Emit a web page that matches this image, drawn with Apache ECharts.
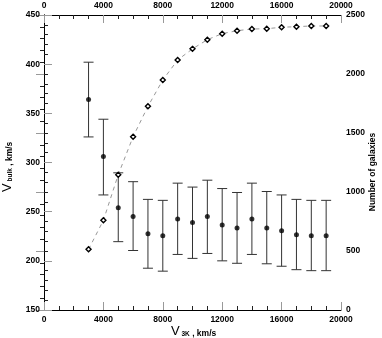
<!DOCTYPE html>
<html>
<head>
<meta charset="utf-8">
<script src="https://cdn.jsdelivr.net/npm/echarts@6/dist/echarts.min.js"></script>
<style>html,body{margin:0;padding:0;background:#fff;}#c{width:382px;height:338px;}</style>
</head>
<body>
<div id="c"></div>
<script>
const vel = [3000,4000,5000,6000,7000,8000,9000,10000,11000,12000,13000,14000,15000,16000,17000,18000,19000];
const vBulk = [364,306,254,245,227.5,225.5,242.5,239,245,236.5,233.5,242.5,233.5,230.5,226.5,225.5,225.5];
const vHigh = [402,344,289.5,280.5,262.5,261.5,279,275,282,273.5,269.5,279,270.5,267,262.5,261.5,261.5];
const vLow  = [326,267,219.5,210.5,192.5,189.5,206.5,202.5,207.5,200,197.5,206.5,197,194.5,191,190,190];
const nGal  = [514,760,1147,1469,1726,1949,2119,2213,2291,2342,2367,2381,2384,2396,2401,2407,2407];

const FONT = 'Liberation Sans';
const plain = v => String(v);
const lab = {color:'#000', fontFamily:FONT, fontSize:8.5, fontWeight:'bold', formatter:plain};
const majTick = {show:true, inside:true, length:8, lineStyle:{color:'#999', width:1}};
const minTick = {show:true, length:4, lineStyle:{color:'#222', width:1}};
const axLine = {show:true, lineStyle:{color:'#000', width:1}};

function xAx(pos, margin){
  return {type:'value', position:pos, min:0, max:20000, interval:4000,
    axisLine:axLine, axisTick:majTick, minorTick:Object.assign({splitNumber:4}, minTick),
    splitLine:{show:false}, axisLabel:Object.assign({margin:margin}, lab)};
}

const chart = echarts.init(document.getElementById('c'), null, {renderer:'canvas'});
chart.setOption({
  animation:false,
  backgroundColor:'#fff',
  grid:{left:44, right:41, top:15, bottom:28},
  xAxis:[xAx('bottom',5), xAx('top',5)],
  yAxis:[
    {type:'value', position:'left', min:150, max:450, interval:50,
      axisLine:axLine, axisTick:majTick, minorTick:Object.assign({splitNumber:5}, minTick),
      splitLine:{show:false}, axisLabel:Object.assign({margin:4}, lab)},
    {type:'value', position:'right', min:0, max:2500, interval:500,
      axisLine:axLine, axisTick:majTick, minorTick:Object.assign({splitNumber:5}, minTick),
      splitLine:{show:false}, axisLabel:Object.assign({margin:5}, lab)}
  ],
  series:[
    {type:'custom', xAxisIndex:0, yAxisIndex:0,
      data: vel.map((v,i)=>[v, vLow[i], vHigh[i]]),
      encode:{x:0, y:[1,2]},
      renderItem:function(params, api){
        const x = api.value(0);
        const pl = api.coord([x, api.value(1)]);
        const ph = api.coord([x, api.value(2)]);
        const w = 5;
        const st = {stroke:'#333', lineWidth:1};
        return {type:'group', children:[
          {type:'line', shape:{x1:pl[0], y1:pl[1], x2:ph[0], y2:ph[1]}, style:st},
          {type:'line', shape:{x1:pl[0]-w, y1:pl[1], x2:pl[0]+w, y2:pl[1]}, style:st},
          {type:'line', shape:{x1:ph[0]-w, y1:ph[1], x2:ph[0]+w, y2:ph[1]}, style:st}
        ]};
      }, z:2},
    {type:'scatter', xAxisIndex:0, yAxisIndex:0,
      data: vel.map((v,i)=>[v, vBulk[i]]),
      symbol:'circle', symbolSize:5, itemStyle:{color:'#000'}, z:3},
    {type:'line', xAxisIndex:0, yAxisIndex:1,
      data: vel.map((v,i)=>[v, nGal[i]]),
      symbol:'diamond', symbolSize:5, showSymbol:true,
      lineStyle:{color:'#999', width:1, type:[4,4]},
      itemStyle:{color:'#fff', borderColor:'#000', borderWidth:1.4}, z:4}
  ],
  graphic:[
    {type:'text', x:171, y:331, style:{
      text:'{a|V}{b| 3K}{c| , km/s}',
      verticalAlign:'middle',
      rich:{
        a:{fontFamily:FONT, fontSize:13, fill:'#000', verticalAlign:'bottom', lineHeight:14},
        b:{fontFamily:FONT, fontSize:6.5, fontWeight:'bold', fill:'#000', verticalAlign:'bottom', lineHeight:10},
        c:{fontFamily:FONT, fontSize:8.5, fontWeight:'bold', fill:'#000', verticalAlign:'bottom', lineHeight:13}
      }}},
    {type:'text', x:7, y:192, rotation:Math.PI/2, style:{
      text:'{a|V}{b| bulk}{c| , km/s}',
      verticalAlign:'middle',
      rich:{
        a:{fontFamily:FONT, fontSize:13, fill:'#000', verticalAlign:'bottom', lineHeight:14},
        b:{fontFamily:FONT, fontSize:6.5, fontWeight:'bold', fill:'#000', verticalAlign:'bottom', lineHeight:10},
        c:{fontFamily:FONT, fontSize:8.5, fontWeight:'bold', fill:'#000', verticalAlign:'bottom', lineHeight:13}
      }}},
    {type:'text', x:373, y:172, rotation:Math.PI/2, style:{
      text:'Number of galaxies', align:'center', verticalAlign:'middle',
      fontFamily:FONT, fontSize:8.5, fontWeight:'bold', fill:'#000'}}
  ]
});
</script>
</body>
</html>
